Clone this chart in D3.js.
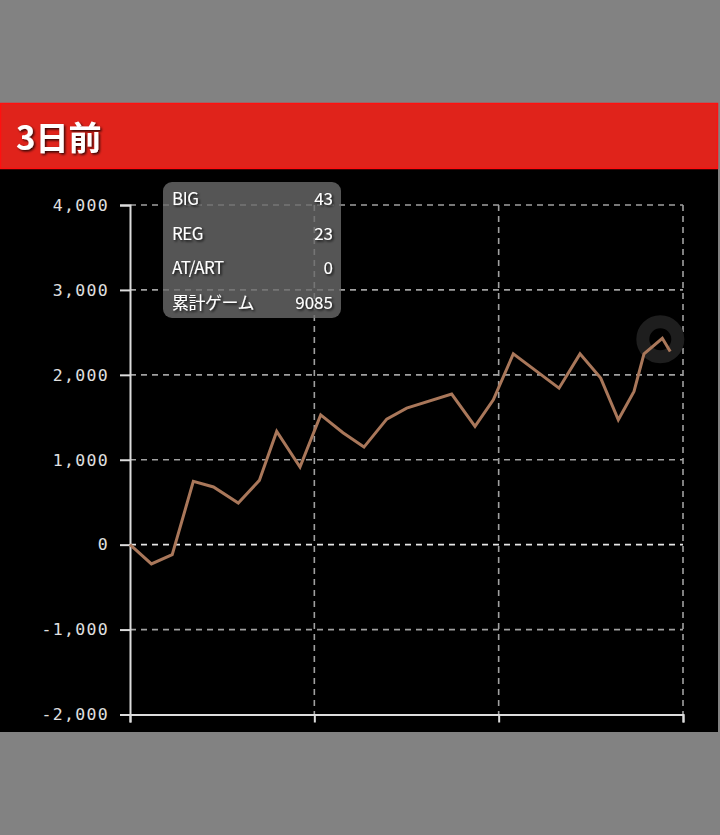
<!DOCTYPE html>
<html><head><meta charset="utf-8">
<script src="https://cdn.jsdelivr.net/npm/d3@7"></script>
<style>
html,body{margin:0;padding:0;background:#828282;}
svg{display:block;}
</style></head>
<body>
<script>
const title = "3日前";
const games = [0,360,710,1065,1404,1821,2175,2467,2859,3207,3582,3935,4317,4653,5410,5802,6110,6446,7215,7568,7916,8212,8476,8644,8952,9085];
const diff  = [0,-227,-118,745,679,490,757,1333,914,1529,1318,1149,1478,1608,1773,1392,1706,2247,1843,2247,1961,1471,1804,2247,2431,2274];
const yTicks = [-2000,-1000,0,1000,2000,3000,4000];
const xTicks = [0,3100,6200,9300];
const infoLabels = ["BIG","REG","AT/ART","累計ゲーム"];
const infoValues = ["43","23","0","9085"];
const highlightIndex = 24;

const W=720,H=835;
const svg=d3.select("body").append("svg").attr("width",W).attr("height",H);
svg.append("rect").attr("width",W).attr("height",H).attr("fill","#828282");
// panel
svg.append("rect").attr("x",0).attr("y",169).attr("width",718).attr("height",563).attr("fill","#000");
// header
svg.append("rect").attr("x",0.5).attr("y",103.5).attr("width",717).attr("height",65).attr("fill","#e0231b").attr("stroke","#ff1010").attr("stroke-width",1.5);
const defs=svg.append("defs");
const f=defs.append("filter").attr("id","sh").attr("x","-20%").attr("y","-20%").attr("width","140%").attr("height","140%");
f.append("feDropShadow").attr("dx",1.5).attr("dy",1.5).attr("stdDeviation",1).attr("flood-color","#000").attr("flood-opacity",0.8);
svg.append("text").attr("x",16).attr("y",150).text(title)
  .attr("font-family","'Noto Sans CJK JP'").attr("font-weight","bold").attr("font-size",33).attr("fill","#fff").attr("filter","url(#sh)");

const x=d3.scaleLinear().domain([0,9300]).range([130,683]);
const y=d3.scaleLinear().domain([-2000,4000]).range([714.5,205]);

// grid
const g=svg.append("g");
g.selectAll("line.hg").data(yTicks.filter(v=>v>-2000)).join("line")
  .attr("x1",130).attr("x2",683).attr("y1",d=>y(d)).attr("y2",d=>y(d))
  .attr("stroke",d=>d===0?"#e6e6e6":"#a0a0a0").attr("stroke-width",1.6).attr("stroke-dasharray","6,5");
g.selectAll("line.vg").data(xTicks.filter(v=>v>0)).join("line")
  .attr("x1",d=>x(d)).attr("x2",d=>x(d)).attr("y1",205).attr("y2",714.5)
  .attr("stroke","#a0a0a0").attr("stroke-width",1.6).attr("stroke-dasharray","6,5");

// axes
const fmt=d3.format(",");
const yAxis=d3.axisLeft(y).tickValues(yTicks).tickSize(10).tickPadding(11).tickFormat(d=>fmt(d).replace("\u2212","-"));
const ya=svg.append("g").attr("transform","translate(130,0)").call(yAxis);
ya.select(".domain").attr("stroke","#dcdcdc").attr("stroke-width",2);
ya.selectAll(".tick line").attr("stroke","#dcdcdc").attr("stroke-width",2);
ya.selectAll("text").attr("fill","#e0e0e0").attr("font-family","'DejaVu Sans Mono'").attr("font-size",16.5).attr("letter-spacing","1.3px");
const xAxis=d3.axisBottom(x).tickValues(xTicks).tickSize(8).tickFormat("");
const xa=svg.append("g").attr("transform","translate(0,714.5)").call(xAxis);
xa.select(".domain").attr("stroke","#dcdcdc").attr("stroke-width",2);
xa.selectAll(".tick line").attr("stroke","#dcdcdc").attr("stroke-width",2);

// highlight
svg.append("circle").attr("cx",x(games[highlightIndex])-2).attr("cy",y(diff[highlightIndex])+1)
  .attr("r",17.5).attr("fill","none").attr("stroke","#1e1e1e").attr("stroke-width",13);

// line
const line=d3.line().x((d,i)=>x(games[i])).y(d=>y(d));
svg.append("path").datum(diff).attr("d",line).attr("fill","none")
  .attr("stroke","#a9775a").attr("stroke-width",3).attr("stroke-linejoin","miter");

// tooltip
const tt=svg.append("g");
tt.append("rect").attr("x",163).attr("y",182).attr("width",178).attr("height",136).attr("rx",9)
  .attr("fill","#6a6a6a").attr("fill-opacity",0.8);
const rows=d3.range(infoLabels.length);
tt.selectAll("text.l").data(rows).join("text").attr("x",172).attr("y",i=>205+i*34.5)
  .text(i=>infoLabels[i]).attr("fill","#fff").attr("font-family","'Noto Sans CJK JP'").attr("font-size",17).attr("letter-spacing","-0.5px").attr("filter","url(#sh)");
tt.selectAll("text.v").data(rows).join("text").attr("x",333).attr("y",i=>205+i*34.5).attr("text-anchor","end")
  .text(i=>infoValues[i]).attr("fill","#fff").attr("font-family","'Noto Sans CJK JP'").attr("font-size",17).attr("filter","url(#sh)");
</script>
</body></html>
